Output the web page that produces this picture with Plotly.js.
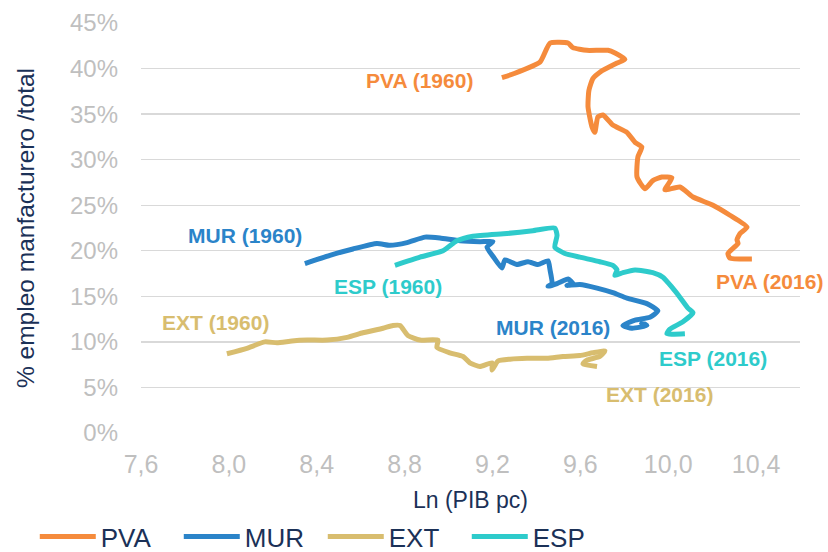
<!DOCTYPE html>
<html>
<head>
<meta charset="utf-8">
<script src="https://cdn.plot.ly/plotly-3.0.1.min.js"></script>
<style>
  html, body { margin: 0; padding: 0; background: #fff; }
  #chart { width: 828px; height: 552px; }
</style>
</head>
<body>
<div id="chart"></div>
<script>
// Ln(PIB pc) vs % empleo manufacturero, 1960-2016
const pvaX = [9.243, 9.293, 9.416, 9.462, 9.544, 9.566, 9.630, 9.726, 9.758, 9.803, 9.767, 9.689, 9.657, 9.639, 9.635, 9.653, 9.666, 9.680, 9.703, 9.748, 9.812, 9.849, 9.880, 9.862, 9.858, 9.894, 9.930, 9.971, 10.017, 9.985, 10.053, 10.113, 10.204, 10.281, 10.359, 10.327, 10.313, 10.318, 10.272, 10.281, 10.381];
const pvaY = [39.0, 39.4, 40.7, 42.8, 42.8, 42.3, 42.0, 42.0, 41.7, 41.0, 40.6, 39.6, 38.9, 37.6, 35.8, 33.6, 33.0, 34.7, 34.9, 33.8, 33.0, 31.9, 31.4, 30.3, 28.1, 26.8, 27.7, 28.1, 28.0, 26.7, 27.0, 25.9, 25.0, 23.9, 22.6, 21.9, 21.2, 20.8, 19.7, 19.2, 19.1];

const murX = [8.346, 8.460, 8.565, 8.674, 8.733, 8.811, 8.893, 8.961, 9.052, 9.143, 9.202, 9.175, 9.202, 9.243, 9.257, 9.311, 9.362, 9.407, 9.453, 9.462, 9.471, 9.453, 9.494, 9.521, 9.544, 9.566, 9.539, 9.598, 9.676, 9.748, 9.812, 9.903, 9.953, 9.917, 9.849, 9.794, 9.835, 9.903, 9.871];
const murY = [18.6, 19.5, 20.2, 20.8, 20.6, 20.9, 21.5, 21.4, 21.1, 21.0, 21.0, 20.4, 19.4, 18.1, 19.0, 18.5, 18.8, 18.5, 18.9, 17.9, 16.4, 16.1, 16.4, 16.7, 16.9, 16.4, 16.2, 16.3, 15.9, 15.4, 14.8, 14.2, 13.4, 12.7, 12.4, 11.8, 11.5, 11.8, 12.2];

const extX = [7.991, 8.082, 8.164, 8.219, 8.287, 8.356, 8.447, 8.538, 8.610, 8.702, 8.747, 8.779, 8.815, 8.870, 8.952, 8.947, 9.006, 9.066, 9.097, 9.143, 9.198, 9.198, 9.225, 9.280, 9.357, 9.448, 9.521, 9.598, 9.657, 9.712, 9.689, 9.630, 9.612, 9.676];
const extY = [8.7, 9.3, 10.0, 9.9, 10.1, 10.2, 10.2, 10.5, 11.0, 11.5, 11.8, 11.8, 10.7, 10.2, 10.2, 9.4, 8.8, 8.4, 7.7, 7.3, 7.7, 6.9, 7.9, 8.1, 8.2, 8.2, 8.4, 8.5, 8.8, 9.0, 8.4, 8.0, 7.6, 7.3];

const espX = [8.756, 8.870, 8.975, 9.038, 9.111, 9.266, 9.384, 9.484, 9.494, 9.484, 9.530, 9.598, 9.689, 9.748, 9.767, 9.757, 9.794, 9.849, 9.930, 9.976, 10.017, 10.053, 10.090, 10.113, 10.067, 10.008, 9.994, 10.076];
const espY = [18.4, 19.3, 20.0, 21.1, 21.6, 21.9, 22.2, 22.5, 21.7, 20.4, 19.7, 19.3, 18.8, 18.4, 17.9, 17.3, 17.6, 17.9, 17.6, 17.1, 16.0, 14.9, 13.7, 13.2, 12.2, 11.4, 10.9, 10.9];

const seriesNames = ['PVA', 'MUR', 'EXT', 'ESP'];
const seriesColors = ['#F58B3C', '#2B84C9', '#D8BD6F', '#2ECBCB'];

// start / end labels
const labelText = ['PVA (1960)', 'PVA (2016)', 'MUR (1960)', 'MUR (2016)', 'ESP (1960)', 'ESP (2016)', 'EXT (1960)', 'EXT (2016)'];
const labelX = [8.870, 10.463, 8.073, 9.475, 8.724, 10.204, 7.937, 9.962];
const labelY = [38.7, 16.6, 21.7, 11.6, 16.1, 8.2, 12.1, 4.2];
const labelSeries = [0, 0, 1, 1, 3, 3, 2, 2];

const xs = [pvaX, murX, extX, espX];
const ys = [pvaY, murY, extY, espY];

const data = seriesNames.map((name, i) => ({
    x: xs[i],
    y: ys[i],
    type: 'scatter',
    mode: 'lines',
    name: name,
    line: { color: seriesColors[i], width: 5, shape: 'spline', smoothing: 0.5 },
    hoverinfo: 'x+y+name'
}));

const annotations = labelText.map((t, i) => ({
    x: labelX[i],
    y: labelY[i],
    xref: 'x',
    yref: 'y',
    text: '<b>' + t + '</b>',
    showarrow: false,
    font: { size: 21, color: seriesColors[labelSeries[i]] }
}));

const navy = '#1B3157';

const layout = {
    width: 828,
    height: 552,
    margin: { l: 141, r: 28, t: 23, b: 119 },
    paper_bgcolor: '#fff',
    plot_bgcolor: '#fff',
    separators: ',.',
    font: { family: 'Liberation Sans, Arial, sans-serif', color: navy },
    showlegend: true,
    xaxis: {
        range: [7.6, 10.6],
        tick0: 7.6,
        dtick: 0.4,
        tickformat: '.1f',
        showgrid: false,
        zeroline: false,
        showline: false,
        ticks: '',
        ticklabelstandoff: 14,
        tickfont: { size: 25, color: '#BFBFBF' },
        title: { text: 'Ln (PIB pc)', font: { size: 23, color: navy }, standoff: 24 }
    },
    yaxis: {
        range: [0, 45],
        dtick: 5,
        ticksuffix: '%',
        showgrid: true,
        gridcolor: '#D9D9D9',
        gridwidth: 1.3,
        zeroline: false,
        showline: false,
        ticks: '',
        ticklabelstandoff: 22,
        tickfont: { size: 24, color: '#BFBFBF' },
        title: { text: '% empleo manfacturero /total', font: { size: 24.5, color: navy }, standoff: 28 }
    },
    legend: {
        orientation: 'h',
        xref: 'container',
        yref: 'container',
        x: 0.042,
        y: 0.028,
        xanchor: 'left',
        yanchor: 'middle',
        entrywidth: 73,
        entrywidthmode: 'pixels',
        itemwidth: 56,
        font: { size: 26, color: navy },
        bgcolor: 'rgba(0,0,0,0)'
    },
    annotations: annotations
};

Plotly.newPlot('chart', data, layout, { displayModeBar: false, staticPlot: true });
</script>
</body>
</html>
